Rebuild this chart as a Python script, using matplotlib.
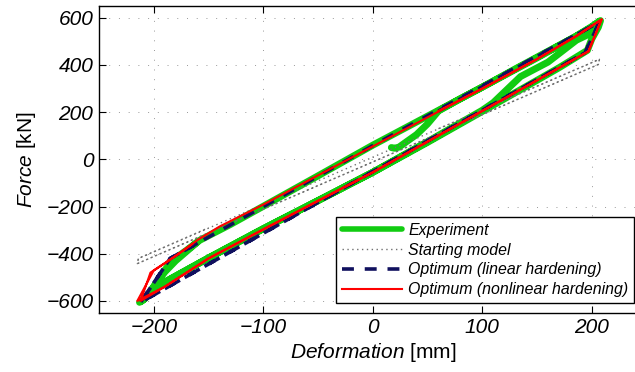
import matplotlib
matplotlib.use("Agg")
import matplotlib.pyplot as plt

plt.rcParams['font.family'] = ['Liberation Sans', 'DejaVu Sans']
plt.rcParams['font.style'] = 'italic'
plt.rcParams['mathtext.fontset'] = 'custom'
plt.rcParams['mathtext.it'] = 'Liberation Sans:italic'
plt.rcParams['mathtext.rm'] = 'Liberation Sans:roman'

# ---- data ----
exp_x = [17, 20, 24, 30, 40, 50, 60, 80, 100, 130, 160, 185, 200, 207,
         203, 195, 186, 160, 135, 110, 100, 50, 0, -50, -100, -150, -180, -200, -210,
         -213, -205, -198, -190, -182, -170, -158, -130, -100, -50, 0, 50, 100, 150, 185, 200, 208,
         206, 200, 196, 170, 150, 100, 50, 0, -50, -100, -150, -190, -205, -212,
         -208, -200, -190, -180, -170, -160]
exp_f = [50, 47, 52, 72, 105, 150, 205, 257, 306, 383, 458, 520, 560, 585,
         560, 525, 505, 412, 351, 240, 208, 75, -55, -175, -294, -418, -495, -548, -598,
         -606, -575, -525, -470, -425, -385, -343, -276, -199, -70, 60, 183, 306, 430, 520, 563, 588,
         560, 510, 462, 388, 335, 203, 72, -55, -175, -294, -418, -520, -575, -602,
         -590, -540, -478, -430, -390, -350]

start_x = [60, 207, 206, -215, -214, 207, 206, -215, -214, -150]
start_f = [130, 424, 402, -442, -420, 424, 402, -442, -420, -290]

lin_x = [60, 207, 194, 0, -212, -185, 0, 207, 194, 0, -212, -185, -160]
lin_f = [205, 582, 452, -52, -606, -420, 58, 582, 452, -52, -606, -420, -355]

nl_x = [60, 100, 150, 185, 209, 197, 150, 100, 0, -100, -150, -190, -215,
        -200, -180, -160, -140, -100, -50, 0, 50, 100, 150, 185, 209,
        197, 150, 100, 0, -100, -150, -190, -212, -203, -185, -165]
nl_f = [205, 300, 425, 520, 593, 458, 335, 205, -55, -297, -420, -540, -600,
        -471, -410, -342, -285, -192, -68, 55, 178, 300, 425, 520, 593,
        458, 335, 205, -55, -297, -420, -540, -600, -480, -425, -360]

xticks = [-200, -100, 0, 100, 200]
yticks = [-600, -400, -200, 0, 200, 400, 600]


def fmt(v):
    return str(v).replace('-', '\u2212')


fig = plt.figure(figsize=(6.35, 3.72), dpi=100)
ax = fig.add_axes([99/635, 0.1594, 547.5/635, 0.8245])

green = '#11cc11'
ax.plot(exp_x, exp_f, color=green, lw=5.0, solid_joinstyle='round',
        solid_capstyle='round', label='Experiment', zorder=2)
ax.plot(start_x, start_f, color='#707070', lw=1.0, linestyle=(0, (1, 2.5)),
        label='Starting model', zorder=3)
ax.plot(lin_x, lin_f, color='#10105e', lw=2.6, linestyle=(0, (3.3, 3.0)),
        label='Optimum (linear hardening)', zorder=4)
ax.plot(nl_x, nl_f, color='#ff0000', lw=1.5, label='Optimum (nonlinear hardening)', zorder=5)

ax.set_xlim(-250, 250)
ax.set_ylim(-650, 650)
ax.set_xticks(xticks, labels=[fmt(v) for v in xticks])
ax.set_yticks(yticks, labels=[fmt(v) for v in yticks])
for lab in ax.get_xticklabels() + ax.get_yticklabels():
    lab.set_fontstyle('italic')
    lab.set_fontsize(15)

ax.tick_params(direction='in', length=5, width=0.8, top=True, right=True, pad=4)
ax.grid(True, color='#999999', lw=0.7, linestyle=(0, (1, 9)))
for s in ax.spines.values():
    s.set_linewidth(1.0)

ax.set_xlabel(r'$\mathit{Deformation}\ \mathrm{[mm]}$', fontsize=15, labelpad=3)
ax.set_ylabel(r'$\mathit{Force}\ \mathrm{[kN]}$', fontsize=15, labelpad=6)

leg = ax.legend(loc='lower right', bbox_to_anchor=(0.977, 0.0326), borderaxespad=0,
                fancybox=False, edgecolor='black', framealpha=1,
                prop={'style': 'italic', 'size': 11.4},
                handlelength=3.8, handletextpad=0.4, labelspacing=0.3,
                borderpad=0.35)
leg.get_frame().set_linewidth(1.0)
for h in leg.legend_handles:
    if h.get_color() == green:
        h.set_linewidth(4.0)

fig.savefig('out.png', dpi=100)
